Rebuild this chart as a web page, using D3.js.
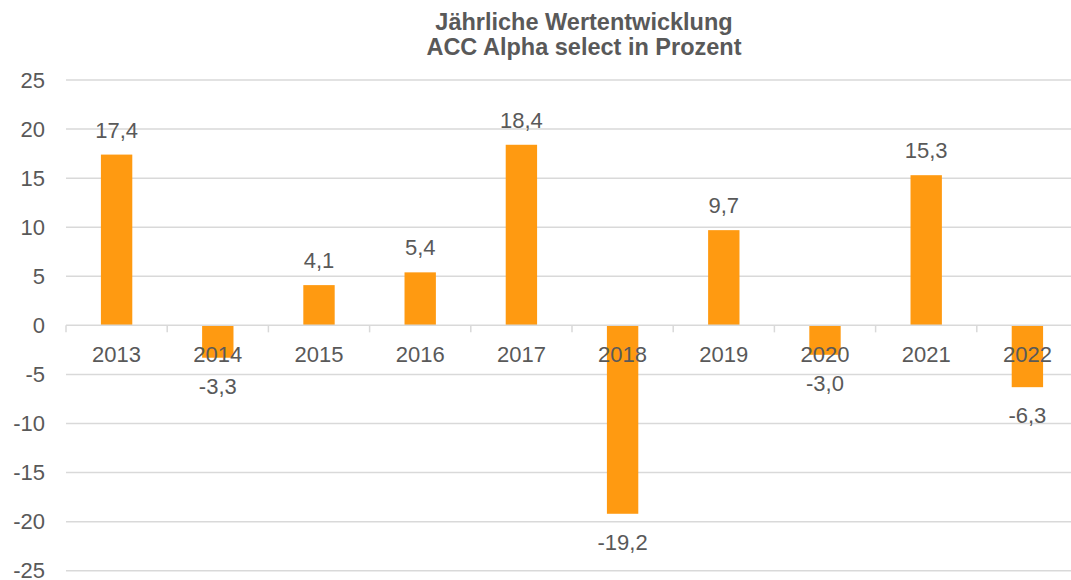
<!DOCTYPE html>
<html lang="de">
<head>
  <meta charset="UTF-8">
  <title>Jährliche Wertentwicklung</title>
  <script src="https://d3js.org/d3.v7.min.js"></script>
  <style>
    body { margin: 0; background: #fff; font-family: "Liberation Sans", Arial, sans-serif; }
    svg text { fill: #595959; }
  </style>
</head>
<body>
  <div id="chart"></div>
  <script>
    // Daten
    const years = ["2013", "2014", "2015", "2016", "2017", "2018", "2019", "2020", "2021", "2022"];
    const returns = [17.4, -3.3, 4.1, 5.4, 18.4, -19.2, 9.7, -3.0, 15.3, -6.3];
    const yTicks = [25, 20, 15, 10, 5, 0, -5, -10, -15, -20, -25];
    const titleLines = ["Jährliche Wertentwicklung", "ACC Alpha select in Prozent"];

    const W = 1071, H = 580;
    const plotL = 66, plotR = 1078, plotT = 80, plotB = 570.7;

    const svg = d3.select("#chart").append("svg")
      .attr("width", W).attr("height", H);

    const x = d3.scaleBand().domain(years).range([plotL, plotR]).padding(0);
    const y = d3.scaleLinear().domain([-25, 25]).range([plotB, plotT]);
    const barW = x.bandwidth() * 0.31;
    const fmt = v => v.toFixed(1).replace(".", ",");

    // Titel
    svg.append("g").selectAll("text")
      .data(titleLines)
      .enter().append("text")
      .attr("x", 584)
      .attr("y", (d, i) => 30 + i * 25)
      .attr("text-anchor", "middle")
      .style("font-size", "23.5px")
      .style("font-weight", "bold")
      .text(d => d);

    // Gitternetz
    svg.append("g").selectAll("line")
      .data(yTicks.filter(d => d !== 0))
      .enter().append("line")
      .attr("x1", plotL).attr("x2", W)
      .attr("y1", d => y(d)).attr("y2", d => y(d))
      .attr("stroke", "#d9d9d9")
      .attr("stroke-width", 1.5);

    // y-Achse Beschriftung
    svg.append("g").selectAll("text")
      .data(yTicks)
      .enter().append("text")
      .attr("x", 45)
      .attr("y", d => y(d) + 7.5)
      .attr("text-anchor", "end")
      .style("font-size", "22px")
      .text(d => d);

    // Balken
    svg.append("g").selectAll("rect")
      .data(returns)
      .enter().append("rect")
      .attr("x", (d, i) => x(years[i]) + (x.bandwidth() - barW) / 2)
      .attr("y", d => y(Math.max(0, d)))
      .attr("width", barW)
      .attr("height", d => Math.abs(y(d) - y(0)))
      .attr("fill", "#ff9a11");

    // Nulllinie + Striche
    svg.append("line")
      .attr("x1", plotL).attr("x2", W)
      .attr("y1", y(0)).attr("y2", y(0))
      .attr("stroke", "#d9d9d9").attr("stroke-width", 1.5);
    svg.append("g").selectAll("line")
      .data(years)
      .enter().append("line")
      .attr("x1", d => x(d)).attr("x2", d => x(d))
      .attr("y1", y(0)).attr("y2", y(0) + 7)
      .attr("stroke", "#d9d9d9").attr("stroke-width", 1.5);

    // Kategorien
    svg.append("g").selectAll("text")
      .data(years)
      .enter().append("text")
      .attr("x", d => x(d) + x.bandwidth() / 2)
      .attr("y", y(0) + 37)
      .attr("text-anchor", "middle")
      .style("font-size", "22px")
      .text(d => d);

    // Datenbeschriftungen
    svg.append("g").selectAll("text")
      .data(returns)
      .enter().append("text")
      .attr("x", (d, i) => x(years[i]) + x.bandwidth() / 2)
      .attr("y", d => d >= 0 ? y(d) - 17 : y(d) + 36)
      .attr("text-anchor", "middle")
      .style("font-size", "22px")
      .text(d => fmt(d));
  </script>
</body>
</html>
